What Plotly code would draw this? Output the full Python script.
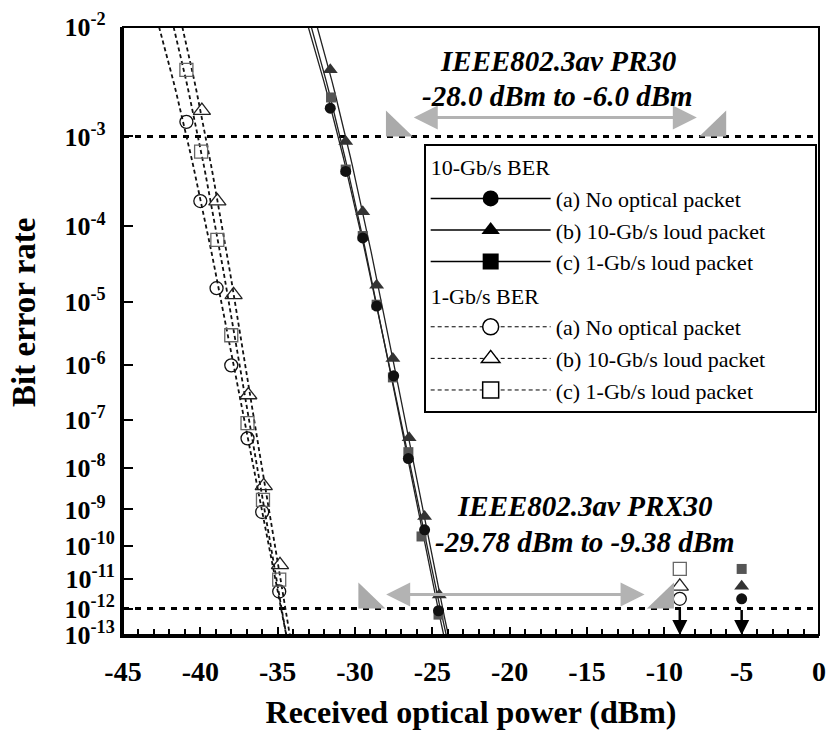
import numpy as np
import plotly.graph_objects as go

# ---------------- measured BER data (received power in dBm) ----------------
# 10-Gb/s BER
p10_a = [-31.6, -30.6, -29.5, -28.6, -27.5, -26.55, -25.5, -24.6]
ber10_a = [1.9e-3, 4.3e-4, 7.2e-5, 8.6e-6, 6.6e-7, 1.6e-8, 2.9e-10, 8.3e-13]
p10_b = [-31.6, -30.6, -29.5, -28.6, -27.55, -26.5, -25.5, -24.55]
ber10_b = [4.3e-3, 8.9e-4, 1.5e-4, 1.7e-5, 1.3e-6, 4.4e-8, 6.6e-10, 3.0e-12]
p10_c = [-31.55, -30.6, -29.5, -28.6, -27.55, -26.55, -25.7, -24.6]
ber10_c = [2.4e-3, 4.5e-4, 7.6e-5, 9.0e-6, 6.2e-7, 2.2e-8, 1.9e-10, 6.0e-13]

# 1-Gb/s BER
p1_a = [-40.9, -40.0, -38.95, -38.0, -36.95, -36.0, -34.9]
ber1_a = [1.4e-3, 2.0e-4, 1.55e-5, 1.0e-6, 4.3e-8, 8.6e-10, 3.9e-12]
p1_b = [-39.9, -38.9, -37.85, -36.9, -35.9, -34.85]
ber1_b = [1.8e-3, 2.0e-4, 1.25e-5, 3.0e-7, 3.8e-9, 2.8e-11]
p1_c = [-40.9, -39.95, -38.9, -38.0, -36.95, -35.95, -34.9]
ber1_c = [4.3e-3, 7.0e-4, 6.8e-5, 3.1e-6, 8.7e-8, 1.75e-9, 9.6e-12]

# error-free operation (BER below 1e-12) at high received power
ef_p_1g = [-9.0, -9.0, -9.0]
ef_p_10g = [-5.0, -5.0, -5.0]
ef_ber = [2.2e-12, 5.8e-12, 2.1e-11]   # (a) circle, (b) triangle, (c) square

# IEEE802.3av receiver windows (dBm)
pr30 = (-28.0, -6.0)
prx30 = (-29.78, -9.38)

ber_ticks = list(range(-2, -14, -1))   # decades shown on the BER axis
x_ticks = [-45, -40, -35, -30, -25, -20, -15, -10, -5, 0]

# ---------------- BER axis scale ----------------
SCALE_OFFSET = 7.2


def ber_axis(ber):
    """Map BER onto the chart's vertical BER scale."""
    return 1.0 / (SCALE_OFFSET - np.log10(np.asarray(ber, dtype=float)))


def fit_curve(p, ber):
    """Least-squares fit of log10(-log10 BER) against power, sampled 1e-2..1e-13."""
    slope, icpt = np.polyfit(p, np.log10(-np.log10(ber)), 1)
    k = np.linspace(2, 13, 120)
    return (np.log10(k) - icpt) / slope, 10.0 ** (-k)


FONT = "Liberation Serif"
C10 = {"a": "#111111", "b": "#333333", "c": "#555555"}
C1 = {"a": "#111111", "b": "#222222", "c": "#666666"}
SYM = {"a": "circle", "b": "triangle-up", "c": "square"}
LABEL = {"a": "(a) No optical packet", "b": "(b) 10-Gb/s loud packet",
         "c": "(c) 1-Gb/s loud packet"}
LEGEND_PAD = "\u00a0" * 8   # right-hand breathing room inside the legend box

fig = go.Figure()

series10 = {"a": (p10_a, ber10_a), "b": (p10_b, ber10_b), "c": (p10_c, ber10_c)}
series1 = {"a": (p1_a, ber1_a), "b": (p1_b, ber1_b), "c": (p1_c, ber1_c)}
msize10 = {"a": 11, "b": 13, "c": 10}
msize1 = {"a": 13, "b": 15, "c": 13}

# fitted curves
for key, (p, ber) in series1.items():
    fx, fb = fit_curve(p, ber)
    fig.add_trace(go.Scatter(x=fx, y=ber_axis(fb), mode="lines", showlegend=False,
                             line=dict(color="#111111", width=1.8, dash="4px,3px"),
                             hoverinfo="skip"))
for key, (p, ber) in series10.items():
    fx, fb = fit_curve(p, ber)
    fig.add_trace(go.Scatter(x=fx, y=ber_axis(fb), mode="lines", showlegend=False,
                             line=dict(color="#222222", width=1.3),
                             hoverinfo="skip"))

# measured points
for key, (p, ber) in series1.items():
    fig.add_trace(go.Scatter(x=p, y=ber_axis(ber), mode="markers", showlegend=False,
                             marker=dict(symbol=SYM[key] + "-open", size=msize1[key],
                                         color=C1[key], line=dict(width=1.3))))
for key in ["c", "b", "a"]:
    p, ber = series10[key]
    fig.add_trace(go.Scatter(x=p, y=ber_axis(ber), mode="markers", showlegend=False,
                             marker=dict(symbol=SYM[key], size=msize10[key],
                                         color=C10[key], line=dict(width=0))))

# error-free markers
for i, key in enumerate(["a", "b", "c"]):
    fig.add_trace(go.Scatter(x=[ef_p_1g[i]], y=ber_axis([ef_ber[i]]), mode="markers",
                             showlegend=False,
                             marker=dict(symbol=SYM[key] + "-open", size=msize1[key],
                                         color=C1[key], line=dict(width=1.3))))
    fig.add_trace(go.Scatter(x=[ef_p_10g[i]], y=ber_axis([ef_ber[i]]), mode="markers",
                             showlegend=False,
                             marker=dict(symbol=SYM[key], size=msize10[key],
                                         color=C10[key], line=dict(width=0))))

# legend entries
for key in ["a", "b", "c"]:
    fig.add_trace(go.Scatter(x=[None], y=[None], mode="lines+markers",
                             name=LABEL[key] + LEGEND_PAD,
                             legendgroup="g10",
                             legendgrouptitle=dict(text="10-Gb/s BER") if key == "a" else None,
                             line=dict(color="#000000", width=1.5),
                             marker=dict(symbol=SYM[key], size=16, color="#000000")))
for key in ["a", "b", "c"]:
    fig.add_trace(go.Scatter(x=[None], y=[None], mode="lines+markers",
                             name=LABEL[key] + LEGEND_PAD,
                             legendgroup="g1",
                             legendgrouptitle=dict(text="1-Gb/s BER") if key == "a" else None,
                             line=dict(color="#000000", width=1, dash="4px,3px"),
                             marker=dict(symbol=SYM[key], size=16, color="#ffffff",
                                         line=dict(color="#000000", width=1.5))))

y_top = float(ber_axis(1e-2))
y_bot = float(ber_axis(1e-13))

# reference BER levels
for lvl in (1e-3, 1e-12):
    yy = float(ber_axis(lvl))
    fig.add_shape(type="line", xref="paper", x0=0, x1=1, yref="y", y0=yy, y1=yy,
                  line=dict(color="#000000", width=3, dash="6px,6px"), layer="below")

# receiver windows: gray end wedges + double arrows
GRAY = "#aaaaaa"
for (lo, hi), lvl, lift in ((pr30, 1e-3, 19), (prx30, 1e-12, 14)):
    yy = float(ber_axis(lvl))
    fig.add_shape(type="path", xref="x", yref="y", xsizemode="pixel", ysizemode="pixel",
                  xanchor=lo, yanchor=yy, path="M0,0 L0,26 L27,0 Z",
                  fillcolor=GRAY, line=dict(width=0))
    fig.add_shape(type="path", xref="x", yref="y", xsizemode="pixel", ysizemode="pixel",
                  xanchor=hi, yanchor=yy, path="M0,0 L0,26 L-27,0 Z",
                  fillcolor=GRAY, line=dict(width=0))
    fig.add_annotation(x=hi - 1.9, y=yy, ax=lo + 1.7, ay=0, axref="x", ayref="pixel",
                       xref="x", yref="y", text="", showarrow=True, arrowside="end+start",
                       arrowhead=2, arrowsize=1.6, arrowwidth=3, arrowcolor="#b3b3b3",
                       yshift=lift)

# error-free arrows down to the axis
for px in (ef_p_1g[0], ef_p_10g[0]):
    fig.add_annotation(x=px, y=y_bot, ax=px, ay=float(ber_axis(1e-12)), axref="x", ayref="y",
                       xref="x", yref="y", text="", showarrow=True, arrowhead=2,
                       arrowsize=1.2, arrowwidth=2.5, arrowcolor="#000000", standoff=0)

ann_font = dict(family=FONT, size=29, color="#000000")
fig.add_annotation(x=-16.9, y=float(ber_axis(1e-3)), yshift=75, text="<b><i>IEEE802.3av PR30</i></b>",
                   showarrow=False, font=ann_font)
fig.add_annotation(x=-16.9, y=float(ber_axis(1e-3)), yshift=40,
                   text="<b><i>-28.0 dBm to -6.0 dBm</i></b>", showarrow=False, font=ann_font)
fig.add_annotation(x=-15.1, y=float(ber_axis(1e-12)), yshift=103,
                   text="<b><i>IEEE802.3av PRX30</i></b>", showarrow=False, font=ann_font)
fig.add_annotation(x=-15.1, y=float(ber_axis(1e-12)), yshift=67,
                   text="<b><i>-29.78 dBm to -9.38 dBm</i></b>", showarrow=False, font=ann_font)

# y-axis title
fig.add_annotation(xref="paper", yref="paper", x=-0.142, y=0.53, textangle=-90,
                   xanchor="center", yanchor="middle",
                   text="<b>Bit error rate</b>", showarrow=False,
                   font=dict(family=FONT, size=33, color="#000000"))

# plot frame (top/right)
fig.add_shape(type="rect", xref="paper", yref="paper", x0=0, x1=1, y0=0, y1=1,
              line=dict(color="#000000", width=2), layer="above")

fig.update_xaxes(range=[-45, 0], tickvals=x_ticks,
                 ticktext=["<b>%d</b>" % v for v in x_ticks],
                 tickfont=dict(family=FONT, size=28, color="#000000"),
                 ticks="inside", ticklen=8, tickwidth=2,
                 tickcolor="#000000", showline=True, linewidth=3, linecolor="#000000",
                 showgrid=False, zeroline=False, ticklabelstandoff=9,
                 ticklabeloverflow="allow",
                 minor=dict(dtick=1, ticks="inside", ticklen=6, tickwidth=2,
                            tickcolor="#000000"),
                 title=dict(text="<b>Received optical power (dBm)</b>", standoff=16,
                            font=dict(family=FONT, size=32, color="#000000")))
fig.update_yaxes(range=[y_bot, y_top], tickvals=[float(ber_axis(10.0 ** e)) for e in ber_ticks],
                 ticktext=["<b>10<sup>%d%s</sup></b>" % (e, "\u2007" if e > -10 else "")
                           for e in ber_ticks],
                 tickfont=dict(family=FONT, size=26, color="#000000"),
                 ticks="inside", ticklen=10, tickwidth=2,
                 tickcolor="#000000", showline=True, linewidth=3, linecolor="#000000",
                 showgrid=False, zeroline=False)

fig.update_layout(
    width=827, height=730,
    margin=dict(l=123, r=8, t=27, b=95, autoexpand=False),
    paper_bgcolor="#ffffff", plot_bgcolor="#ffffff",
    font=dict(family=FONT, color="#000000"),
    legend=dict(x=0.432, y=0.8076, xanchor="left", yanchor="top",
                bgcolor="#ffffff", bordercolor="#000000", borderwidth=2,
                font=dict(family=FONT, size=22, color="#000000"),
                grouptitlefont=dict(family=FONT, size=22, color="#000000"),
                traceorder="grouped", tracegroupgap=2, itemwidth=120,
                groupclick="toggleitem"),
)

fig.write_html("out.html")
